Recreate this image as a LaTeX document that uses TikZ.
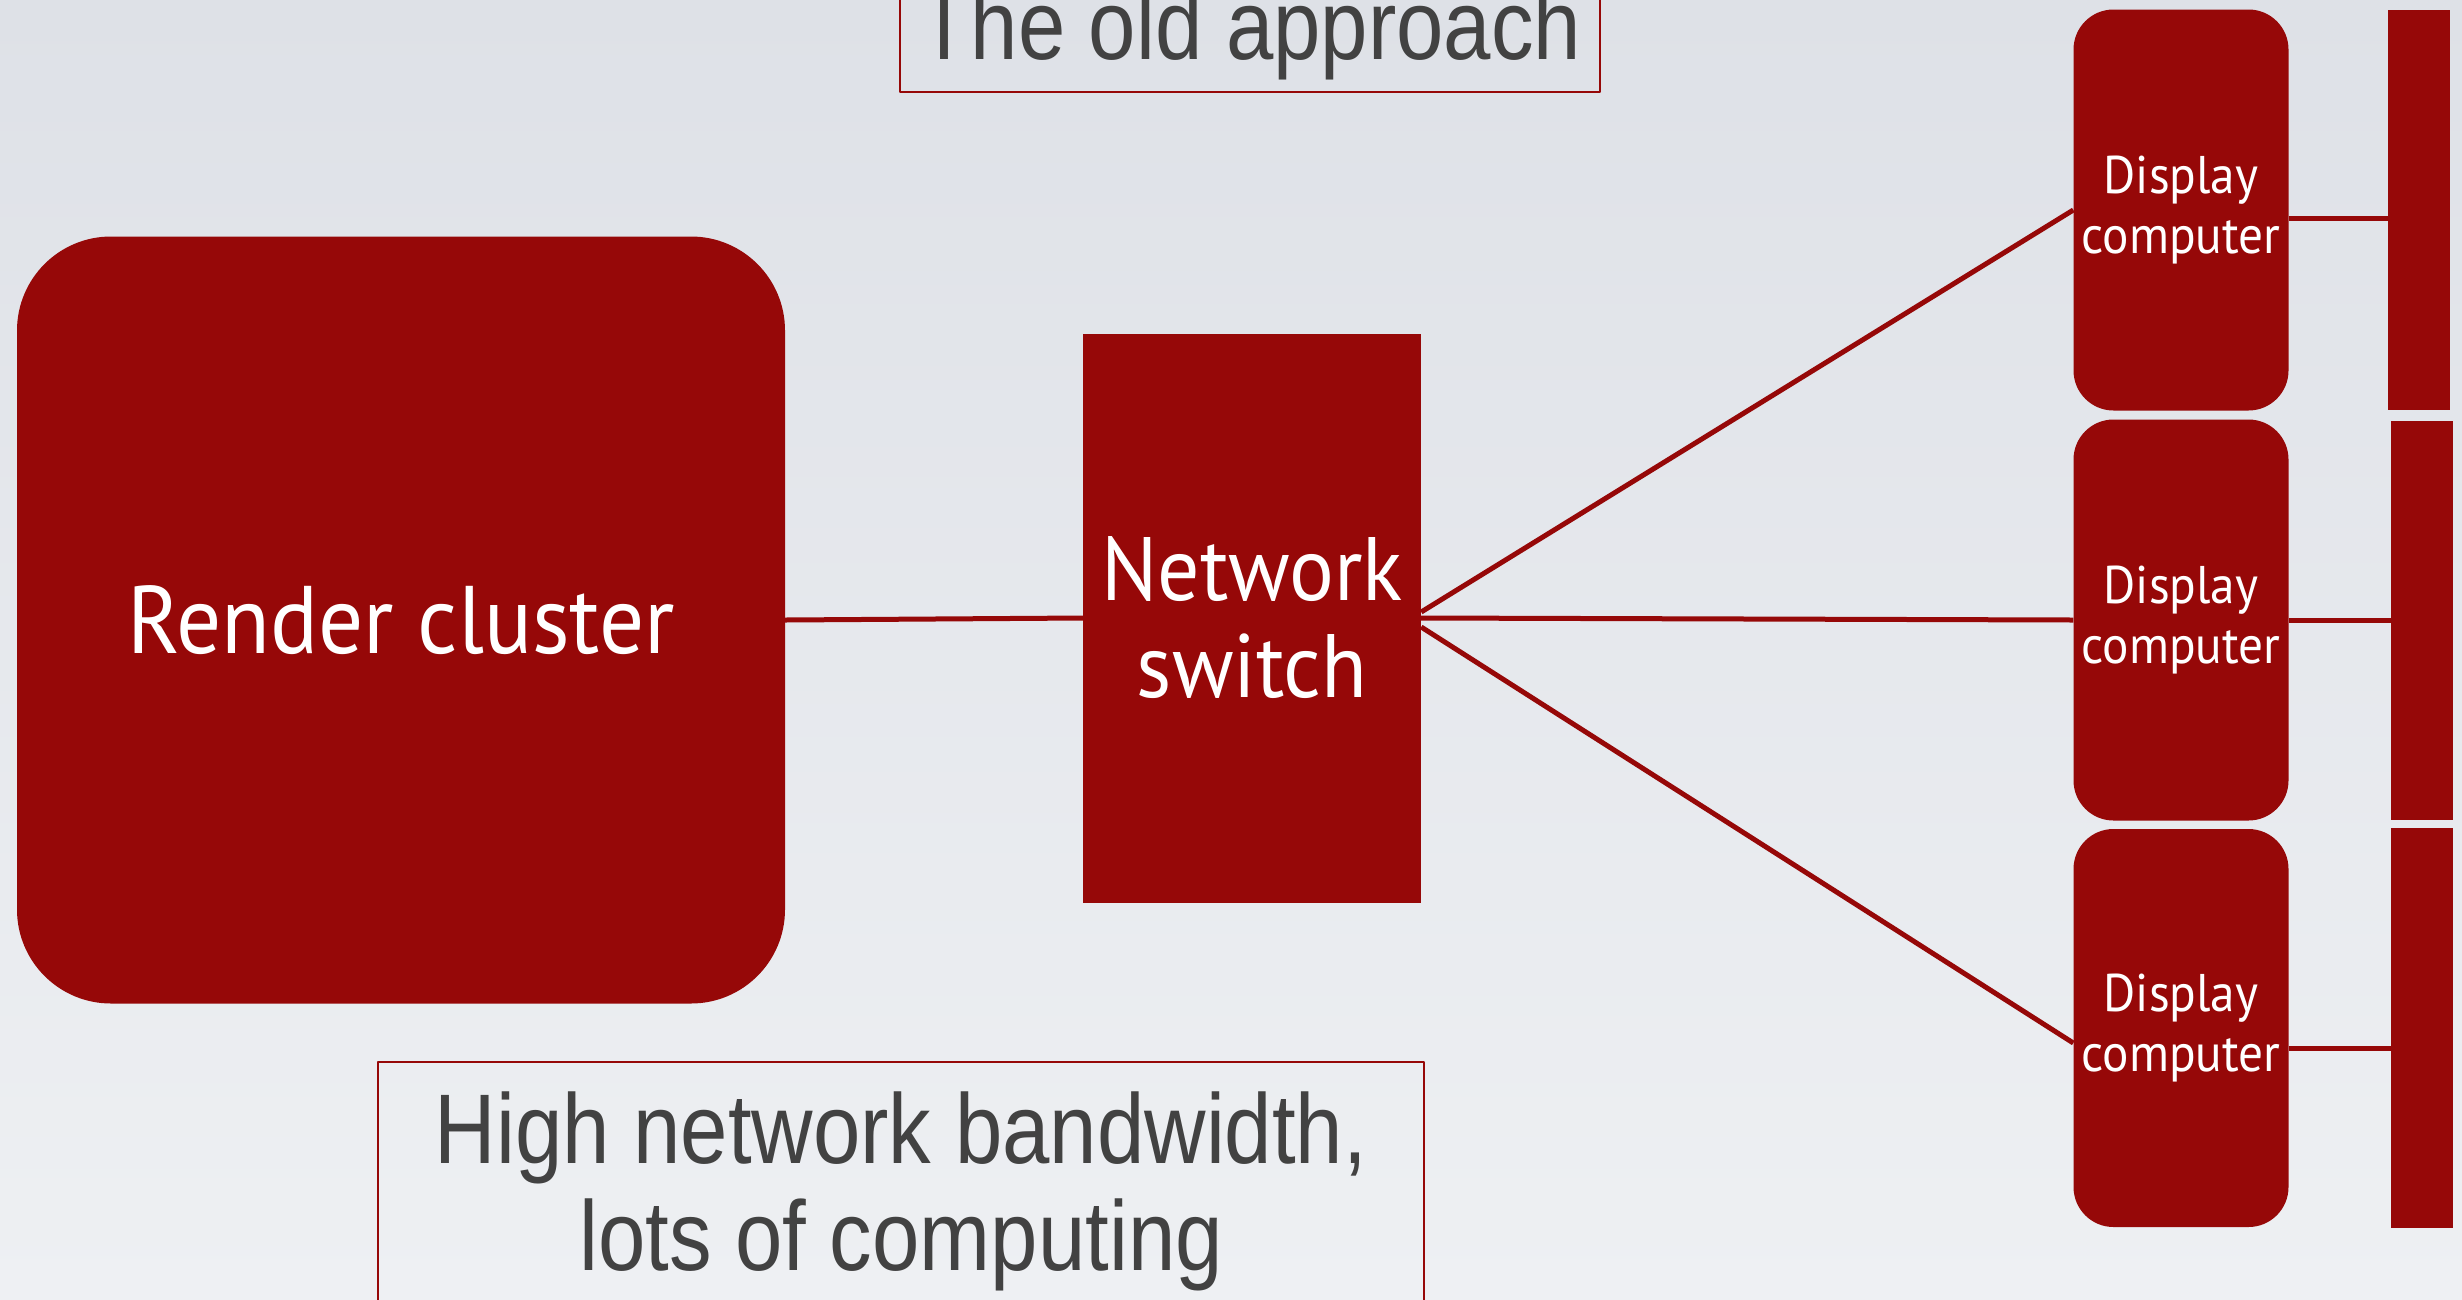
\documentclass[tikz,border=0pt]{standalone}
\usepackage{fontspec}
\setmainfont{PT Sans}
\newfontfamily\boxfont[FakeStretch=0.93]{PT Sans}
\newfontfamily\notefont[FakeStretch=0.86]{Liberation Sans}
\definecolor{boxred}{RGB}{150,8,8}
\definecolor{notegray}{RGB}{66,66,66}
\definecolor{bgtop}{RGB}{222,225,231}
\definecolor{bgbottom}{RGB}{238,240,243}
\begin{document}
\begin{tikzpicture}[x=1pt,y=-1pt,line join=bevel,
  redbox/.style={fill=boxred,draw=none,text=white,align=center,inner sep=0pt},
  wire/.style={draw=boxred,line width=5pt},
  notebox/.style={draw=boxred,line width=2pt,text=notegray,align=center,
    font=\notefont\fontsize{99}{107}\selectfont},
  ]
\useasboundingbox (0,0) rectangle (2462,1299);
\fill [top color=bgtop,bottom color=bgbottom] (0,0) rectangle (2462,1299);
%%
  % Node: Render cluster
  \node [redbox,rounded corners=94pt,minimum width=768pt,minimum height=767pt,
    font=\boxfont\fontsize{96}{100}\selectfont] (cluster) at (401,620) {Render cluster};
  % Node: Network switch
  \node [redbox,minimum width=338pt,minimum height=569pt,
    font=\boxfont\fontsize{90}{97}\selectfont] (switch) at (1252,618) {Network\\switch};
  % Node: Display computers
  \node [redbox,rounded corners=40pt,minimum width=215pt,minimum height=401pt,
    font=\boxfont\fontsize{53}{60}\selectfont] (dc1) at (2181,210) {Display\\computer};
  \node [redbox,rounded corners=40pt,minimum width=215pt,minimum height=401pt,
    font=\boxfont\fontsize{53}{60}\selectfont] (dc2) at (2181,620) {Display\\computer};
  \node [redbox,rounded corners=40pt,minimum width=215pt,minimum height=398pt,
    font=\boxfont\fontsize{53}{60}\selectfont] (dc3) at (2181,1028) {Display\\computer};
  % Node: Screens
  \node [redbox,minimum width=62pt,minimum height=400pt] (scr1) at (2419,210) {};
  \node [redbox,minimum width=62pt,minimum height=399pt] (scr2) at (2422,620) {};
  \node [redbox,minimum width=62pt,minimum height=400pt] (scr3) at (2422,1028) {};
  % Node: Notes
  \node [notebox,minimum width=700pt,minimum height=118pt,anchor=south,
    text height=72pt,text depth=20pt] (title) at (1250,93) {The old approach};
  \node [notebox,minimum width=1046pt,inner ysep=30pt,anchor=north] (cost)
    at (901,1061) {High network bandwidth,\\lots of computing};
%
  % Edge: cluster -> switch
  \draw [wire] (cluster.east) -- (switch.west);
  % Edge: switch -> dc1, dc2, dc3
  \draw [wire] ([yshift=6pt]switch.east) -- (dc1.west);
  \draw [wire] (switch.east) -- (dc2.west);
  \draw [wire] ([yshift=-9pt]switch.east) -- ([yshift=-15pt]dc3.west);
  % Edge: dc -> screens
  \draw [wire] ([yshift=-8pt]dc1.east) -- ([yshift=-8pt]scr1.west);
  \draw [wire] (dc2.east) -- (scr2.west);
  \draw [wire] ([yshift=-20pt]dc3.east) -- ([yshift=-20pt]scr3.west);
%
\end{tikzpicture}
\end{document}
